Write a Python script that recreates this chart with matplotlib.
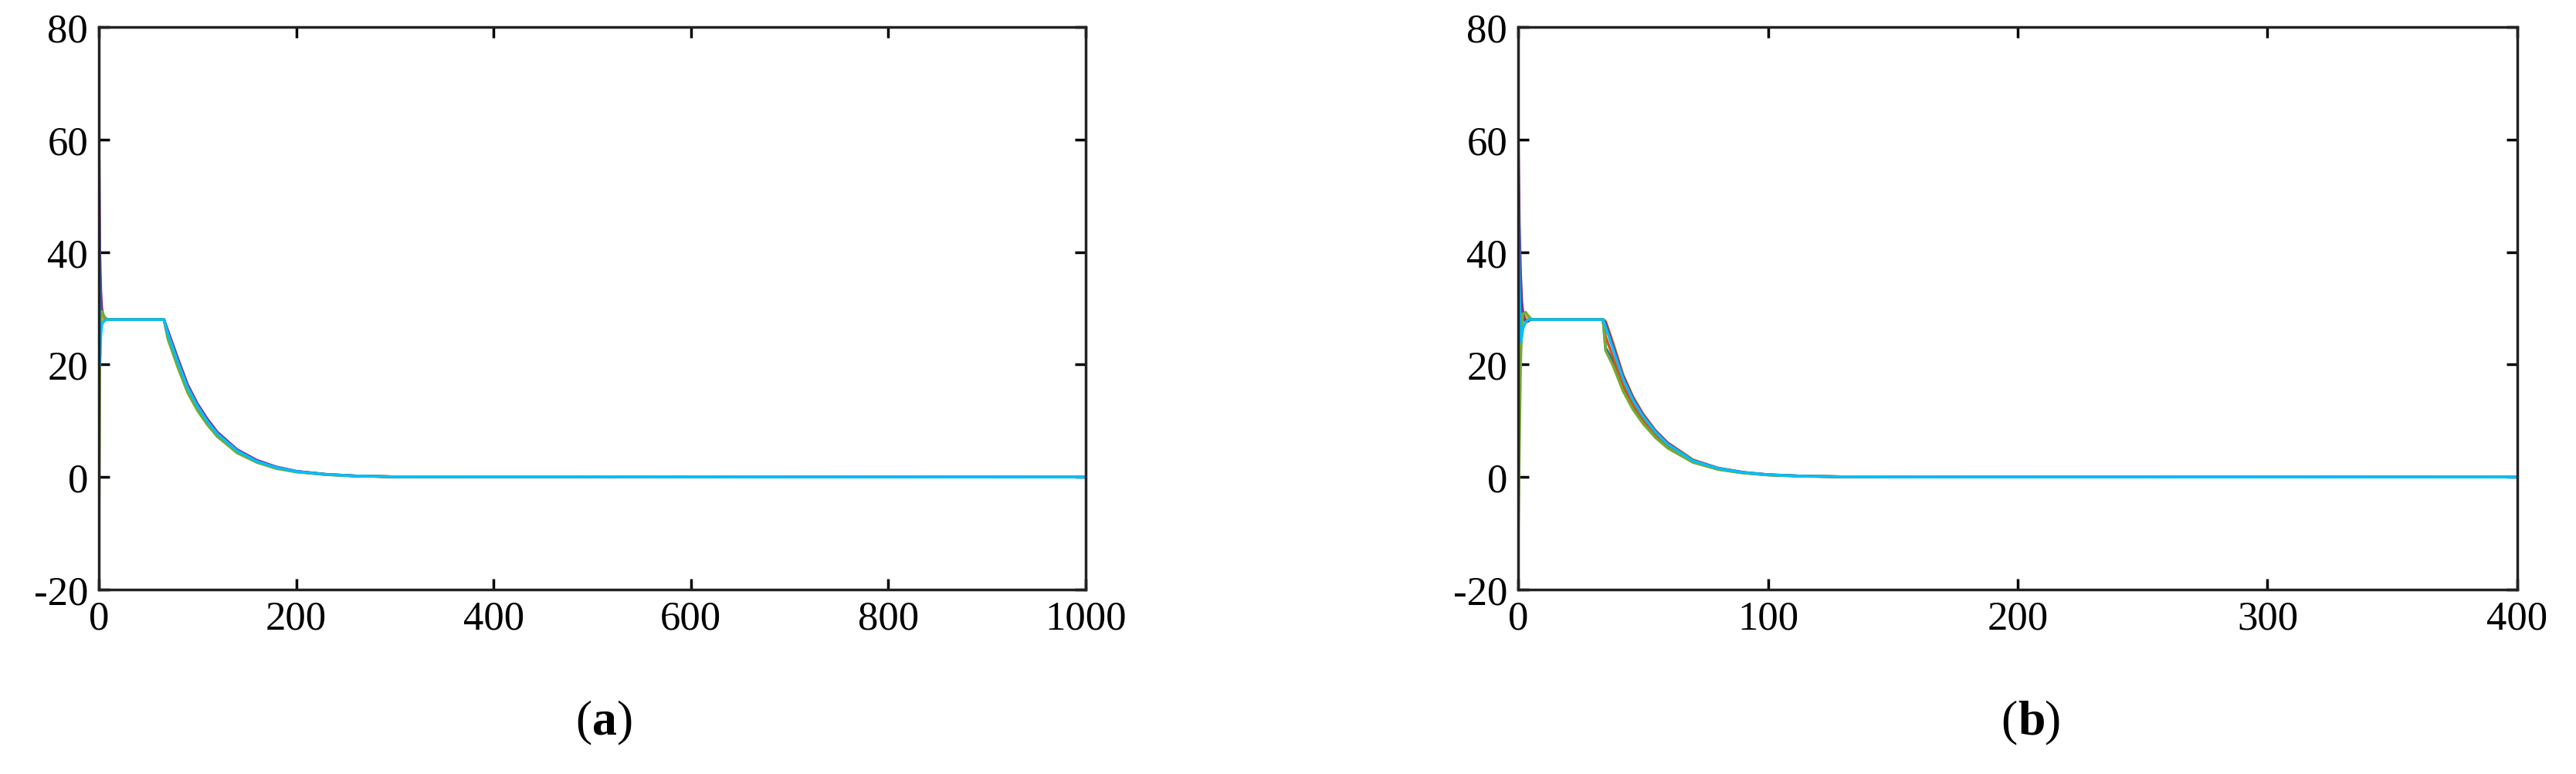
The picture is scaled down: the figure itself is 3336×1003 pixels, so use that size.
import matplotlib
matplotlib.use("Agg")
import matplotlib.pyplot as plt

plt.rcParams['font.family'] = ['Liberation Serif', 'DejaVu Serif']
plt.rcParams['axes.unicode_minus'] = False

colors = ['#0072BD', '#D95319', '#EDB120', '#7E2F8E', '#77AC30', '#00BFFF']

# Panel (a)
a_t = [0, 1, 2, 3, 4, 6, 8, 10, 66, 70, 80, 90, 100, 110, 120, 140, 160, 180, 200, 230, 260, 300, 1000]
a_blue   = [43, 30, 29, 28.5, 28.2, 28, 28, 28, 28, 24.8, 19.9, 15.4, 12.2, 9.6, 7.5, 4.5, 2.7, 1.6, 0.95, 0.45, 0.19, 0.05, 0]
a_orange = [12, 25, 29, 28.5, 28.2, 28, 28, 28, 28, 25.2, 20.3, 15.7, 12.4, 9.8, 7.6, 4.6, 2.8, 1.7, 1.0, 0.46, 0.2, 0.05, 0]
a_yellow = [18, 24, 27, 28.5, 28.3, 28.1, 28, 28, 28, 25.8, 20.8, 16.2, 12.8, 10.1, 7.8, 4.8, 2.9, 1.7, 1.0, 0.48, 0.2, 0.05, 0]
a_purple = [62, 40, 33, 30, 29, 28.3, 28.1, 28, 28, 26.0, 21.1, 16.4, 13.0, 10.3, 8.0, 4.9, 3.0, 1.8, 1.05, 0.5, 0.21, 0.05, 0]
a_green  = [-12, 20, 28.5, 29.5, 29, 28.4, 28.1, 28, 28, 24.5, 19.5, 15.0, 11.8, 9.3, 7.2, 4.3, 2.6, 1.5, 0.9, 0.42, 0.18, 0.04, 0]
a_cyan   = [53, 20, 25, 27, 27.5, 27.8, 28, 28, 28, 25.5, 20.5, 15.9, 12.6, 9.9, 7.7, 4.7, 2.8, 1.7, 1.0, 0.47, 0.2, 0.05, 0]

# Panel (b)
b_t = [0, 0.5, 1, 1.5, 2, 3, 4, 5, 6, 8, 34, 35, 38, 42, 46, 50, 55, 60, 70, 80, 90, 100, 115, 130, 150, 400]
b_blue   = [15, 40, 33, 30, 29, 28.3, 28, 28, 28, 28, 28, 23.0, 20.5, 16.0, 12.6, 10.0, 7.3, 5.4, 2.7, 1.4, 0.75, 0.38, 0.14, 0.05, 0.02, 0]
b_orange = [31, 13, 24, 28.5, 29, 28.3, 28, 28, 28, 28, 28, 25.0, 21.3, 16.4, 12.9, 10.2, 7.5, 5.5, 2.8, 1.5, 0.8, 0.4, 0.15, 0.06, 0.02, 0]
b_yellow = [18, 22, 25, 27, 28, 28.5, 28.2, 28, 28, 28, 28, 27.8, 24.0, 18.3, 14.3, 11.3, 8.3, 6.1, 3.1, 1.6, 0.85, 0.43, 0.16, 0.06, 0.02, 0]
b_purple = [62, 45, 36, 31, 29, 27.5, 27.7, 28, 28, 28, 28, 27.5, 23.5, 18.0, 14.1, 11.1, 8.2, 6.0, 3.0, 1.6, 0.85, 0.43, 0.16, 0.06, 0.02, 0]
b_green  = [-12, 5, 20, 27, 29, 29.3, 28.7, 28.2, 28, 28, 28, 22.5, 19.8, 15.3, 12.0, 9.5, 7.0, 5.1, 2.6, 1.35, 0.72, 0.36, 0.13, 0.05, 0.02, 0]
b_cyan   = [53, 35, 24, 25, 26.5, 27.5, 28, 28, 28, 28, 28, 26.8, 22.8, 17.5, 13.7, 10.8, 8.0, 5.8, 2.9, 1.55, 0.82, 0.42, 0.15, 0.06, 0.02, 0]

a_series = [a_blue, a_orange, a_yellow, a_purple, a_green, a_cyan]
b_series = [b_blue, b_orange, b_yellow, b_purple, b_green, b_cyan]

yticks = [-20, 0, 20, 40, 60, 80]
a_xticks = [0, 200, 400, 600, 800, 1000]
b_xticks = [0, 100, 200, 300, 400]

fig = plt.figure(figsize=(33.37, 10.04), dpi=100)
W, H = 3337, 1004
axa = fig.add_axes([128 / W, 1 - 765 / H, (1406 - 128) / W, (765 - 36) / H])
axb = fig.add_axes([1966 / W, 1 - 765 / H, (3260 - 1966) / W, (765 - 36) / H])

for ax, t, series, xt, lab in [(axa, a_t, a_series, a_xticks, 'a'), (axb, b_t, b_series, b_xticks, 'b')]:
    for s, c in zip(series, colors):
        ax.plot(t, s, color=c, lw=2.5)
    ax.set_xlim(xt[0], xt[-1])
    ax.set_ylim(-20, 80)
    ax.set_xticks(xt)
    ax.set_yticks(yticks)
    ax.tick_params(direction='in', length=10, width=2.5, labelsize=38, top=True, right=True, pad=10)
    for sp in ax.spines.values():
        sp.set_linewidth(2.5)
        sp.set_color('#222222')
    ax.text(0.5, -0.235, '(', transform=ax.transAxes, fontsize=46, ha='right', va='center')
    ax.text(0.5, -0.235, lab, transform=ax.transAxes, fontsize=46, ha='left', va='center', fontweight='bold')
    ax.annotate(')', xy=(1, 0.5), xycoords=ax.texts[-1], fontsize=46, ha='left', va='center')

fig.savefig('out.png', dpi=100)
